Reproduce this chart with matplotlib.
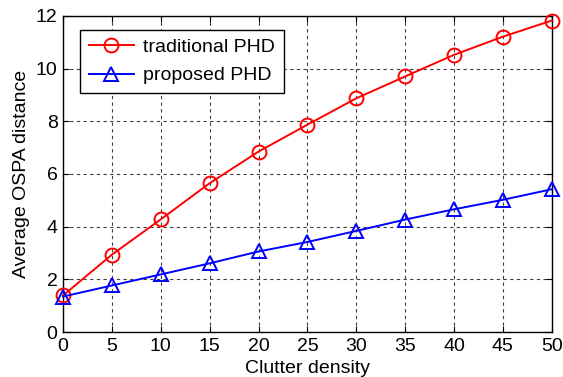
import matplotlib
matplotlib.use("Agg")
import matplotlib.pyplot as plt

plt.rcParams['font.family'] = ['Liberation Sans', 'DejaVu Sans']

clutter = [0, 5, 10, 15, 20, 25, 30, 35, 40, 45, 50]
traditional = [1.39, 2.94, 4.28, 5.65, 6.85, 7.87, 8.87, 9.70, 10.52, 11.21, 11.82]
proposed = [1.35, 1.77, 2.19, 2.61, 3.06, 3.42, 3.84, 4.27, 4.66, 5.02, 5.42]

fig = plt.figure(figsize=(5.63, 3.77), dpi=100)
ax = fig.add_axes([0.112, 0.119, 0.868, 0.839])

ax.plot(clutter, traditional, "r-o", mfc="none", mec="r", ms=10, mew=1.4,
        lw=1.4, label="traditional PHD", clip_on=False, zorder=3)
ax.plot(clutter, proposed, "b-^", mfc="none", mec="b", ms=10, mew=1.4,
        lw=1.4, label="proposed PHD", clip_on=False, zorder=3)

ax.set_xlim(0, 50)
ax.set_ylim(0, 12)
ax.set_xticks(clutter)
ax.set_yticks([0, 2, 4, 6, 8, 10, 12])
ax.grid(True, color="0.25", linestyle=(0, (3, 3)), linewidth=0.8)
ax.tick_params(direction="in", top=True, right=True, labelsize=14, length=4, pad=4)
for s in ax.spines.values():
    s.set_linewidth(1.0)

ax.set_xlabel("Clutter density", fontsize=14, labelpad=4)
ax.set_ylabel("Average OSPA distance", fontsize=14, labelpad=4)

leg = ax.legend(loc="upper left", bbox_to_anchor=(0.035, 0.956), borderaxespad=0,
                fontsize=14, fancybox=False, edgecolor="k", framealpha=1,
                handlelength=2.3, borderpad=0.45, labelspacing=0.55,
                handletextpad=0.5)
leg.get_frame().set_linewidth(1.0)

fig.savefig("out.png", dpi=100)
